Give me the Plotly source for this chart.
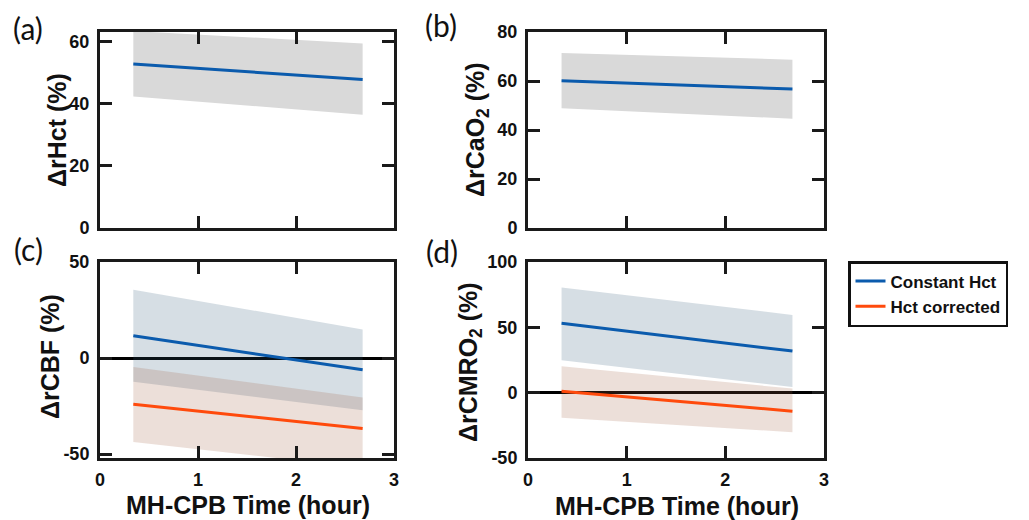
import plotly.graph_objects as go

# ---------------- data ----------------
time_h = [0.34, 2.68]

# (a) ΔrHct
a_mean = [52.7, 47.7]
a_upper = [63.3, 59.3]
a_lower = [42.3, 36.4]

# (b) ΔrCaO2
b_mean = [60.1, 56.7]
b_upper = [71.4, 68.7]
b_lower = [48.9, 44.6]

# (c) ΔrCBF
c_const_mean = [11.6, -6.1]
c_const_upper = [35.6, 14.9]
c_const_lower = [-12.3, -27.2]
c_corr_mean = [-24.0, -36.6]
c_corr_upper = [-4.7, -20.5]
c_corr_lower = [-43.7, -57.0]

# (d) ΔrCMRO2
d_const_mean = [53.1, 31.8]
d_const_upper = [80.5, 59.5]
d_const_lower = [24.8, 4.3]
d_corr_mean = [1.0, -14.2]
d_corr_upper = [20.2, 3.1]
d_corr_lower = [-19.2, -30.3]

series_names = ["Constant Hct", "Hct corrected"]
x_ticks = [0, 1, 2, 3]
a_yticks = [0, 20, 40, 60]
b_yticks = [0, 20, 40, 60, 80]
c_yticks = [-50, 0, 50]
d_yticks = [-50, 0, 50, 100]

# ---------------- styling ----------------
W, H = 1029, 520
BLUE = "#0B5BAD"
ORANGE = "#FF4A0C"
GREY_BAND = "#D9D9D9"
BLUE_BAND = "rgba(50,90,120,0.2)"
ORANGE_BAND = "rgba(160,95,65,0.2)"
FONT = "Liberation Sans, Arial, sans-serif"


def px_x(a, b):
    return [a / W, b / W]


def px_y(top, bottom):
    return [1 - bottom / H, 1 - top / H]


def labels(vals):
    return [str(v) for v in vals]


fig = go.Figure()


def band(xa, ya, lo, up, color):
    fig.add_trace(go.Scatter(
        x=time_h + time_h[::-1], y=up + lo[::-1],
        fill="toself", fillcolor=color, mode="lines",
        line=dict(width=0), hoverinfo="skip", showlegend=False,
        xaxis=xa, yaxis=ya))


def line(xa, ya, y, color, name=None, legend=False):
    fig.add_trace(go.Scatter(
        x=time_h, y=y, mode="lines", line=dict(color=color, width=3),
        name=name, showlegend=legend, xaxis=xa, yaxis=ya))


# (a)
band("x", "y", a_lower, a_upper, GREY_BAND)
line("x", "y", a_mean, BLUE)
# (b)
band("x2", "y2", b_lower, b_upper, GREY_BAND)
line("x2", "y2", b_mean, BLUE)
# (c)
band("x3", "y3", c_const_lower, c_const_upper, BLUE_BAND)
band("x3", "y3", c_corr_lower, c_corr_upper, ORANGE_BAND)
line("x3", "y3", c_const_mean, BLUE, series_names[0], True)
line("x3", "y3", c_corr_mean, ORANGE, series_names[1], True)
# (d)
band("x4", "y4", d_const_lower, d_const_upper, BLUE_BAND)
band("x4", "y4", d_corr_lower, d_corr_upper, ORANGE_BAND)
line("x4", "y4", d_const_mean, BLUE)
line("x4", "y4", d_corr_mean, ORANGE)

tickfont = dict(family=FONT, size=18, color="#111", weight="bold")
common = dict(showgrid=False, ticks="inside", ticklen=12, tickwidth=3,
              tickcolor="#1a1a1a", showline=True, linewidth=3,
              linecolor="#1a1a1a", mirror="ticks", tickfont=tickfont,
              layer="above traces")

top_row = px_y(32, 228)
bot_row = px_y(262, 458)
left_col = px_x(100, 394)
right_col = px_x(528, 824)

fig.update_layout(
    width=W, height=H,
    margin=dict(l=0, r=0, t=0, b=0, autoexpand=False),
    paper_bgcolor="white", plot_bgcolor="white",
    xaxis=dict(domain=left_col, anchor="y", range=[0, 3], tickvals=x_ticks,
               showticklabels=False, zeroline=False, **common),
    yaxis=dict(domain=top_row, anchor="x", range=[0, 63], tickvals=a_yticks,
               ticktext=labels(a_yticks), zeroline=False,
               ticklabelstandoff=4, **common),
    xaxis2=dict(domain=right_col, anchor="y2", range=[0, 3], tickvals=x_ticks,
                showticklabels=False, zeroline=False, **common),
    yaxis2=dict(domain=top_row, anchor="x2", range=[0, 80], tickvals=b_yticks,
                ticktext=labels(b_yticks), zeroline=False,
                ticklabelstandoff=4, **common),
    xaxis3=dict(domain=left_col, anchor="y3", range=[0, 3], tickvals=x_ticks,
                ticktext=labels(x_ticks), zeroline=False,
                ticklabelstandoff=3, **common),
    yaxis3=dict(domain=bot_row, anchor="x3", range=[-52, 50], tickvals=c_yticks,
                ticktext=labels(c_yticks),
                zeroline=True, zerolinecolor="black", zerolinewidth=2.5,
                ticklabelstandoff=4, **common),
    xaxis4=dict(domain=right_col, anchor="y4", range=[0, 3], tickvals=x_ticks,
                ticktext=labels(x_ticks), zeroline=False,
                ticklabelstandoff=3, **common),
    yaxis4=dict(domain=bot_row, anchor="x4", range=[-50, 100], tickvals=d_yticks,
                ticktext=labels(d_yticks),
                zeroline=True, zerolinecolor="black", zerolinewidth=2.5,
                ticklabelstandoff=4, **common),
    legend=dict(x=848 / W, y=1 - 261 / H, xanchor="left", yanchor="top",
                bordercolor="#111", borderwidth=2.5, bgcolor="white",
                font=dict(family=FONT, size=17, color="#111", weight="bold"),
                tracegroupgap=0),
    showlegend=True,
)

ann = []
title_font = dict(family=FONT, size=25, color="#111", weight="bold")
panel_font = dict(family="Lato, Open Sans, sans-serif", size=30, color="#111")


def add_ann(text, xpx, ypx, font, angle=0):
    ann.append(dict(text=text, x=xpx / W, y=1 - ypx / H, xref="paper",
                    yref="paper", xanchor="center", yanchor="middle",
                    showarrow=False, font=font, textangle=angle))


add_ann("(a)", 28, 28, panel_font)
add_ann("(b)", 441, 25, panel_font)
add_ann("(c)", 28, 249, panel_font)
add_ann("(d)", 442, 251, panel_font)

add_ann("ΔrHct (%)", 57, 130, title_font, -90)
add_ann("ΔrCaO<sub>2</sub> (%)", 477, 130, title_font, -90)
add_ann("ΔrCBF (%)", 50, 357, title_font, -90)
add_ann("ΔrCMRO<sub>2</sub> (%)", 470, 362, title_font, -90)

add_ann("MH-CPB Time (hour)", 248, 505, title_font)
add_ann("MH-CPB Time (hour)", 677, 506, title_font)

fig.update_layout(annotations=ann)

fig.write_html("out.html",
               config={"displayModeBar": False},
               post_script="document.body.style.margin='0px';")
